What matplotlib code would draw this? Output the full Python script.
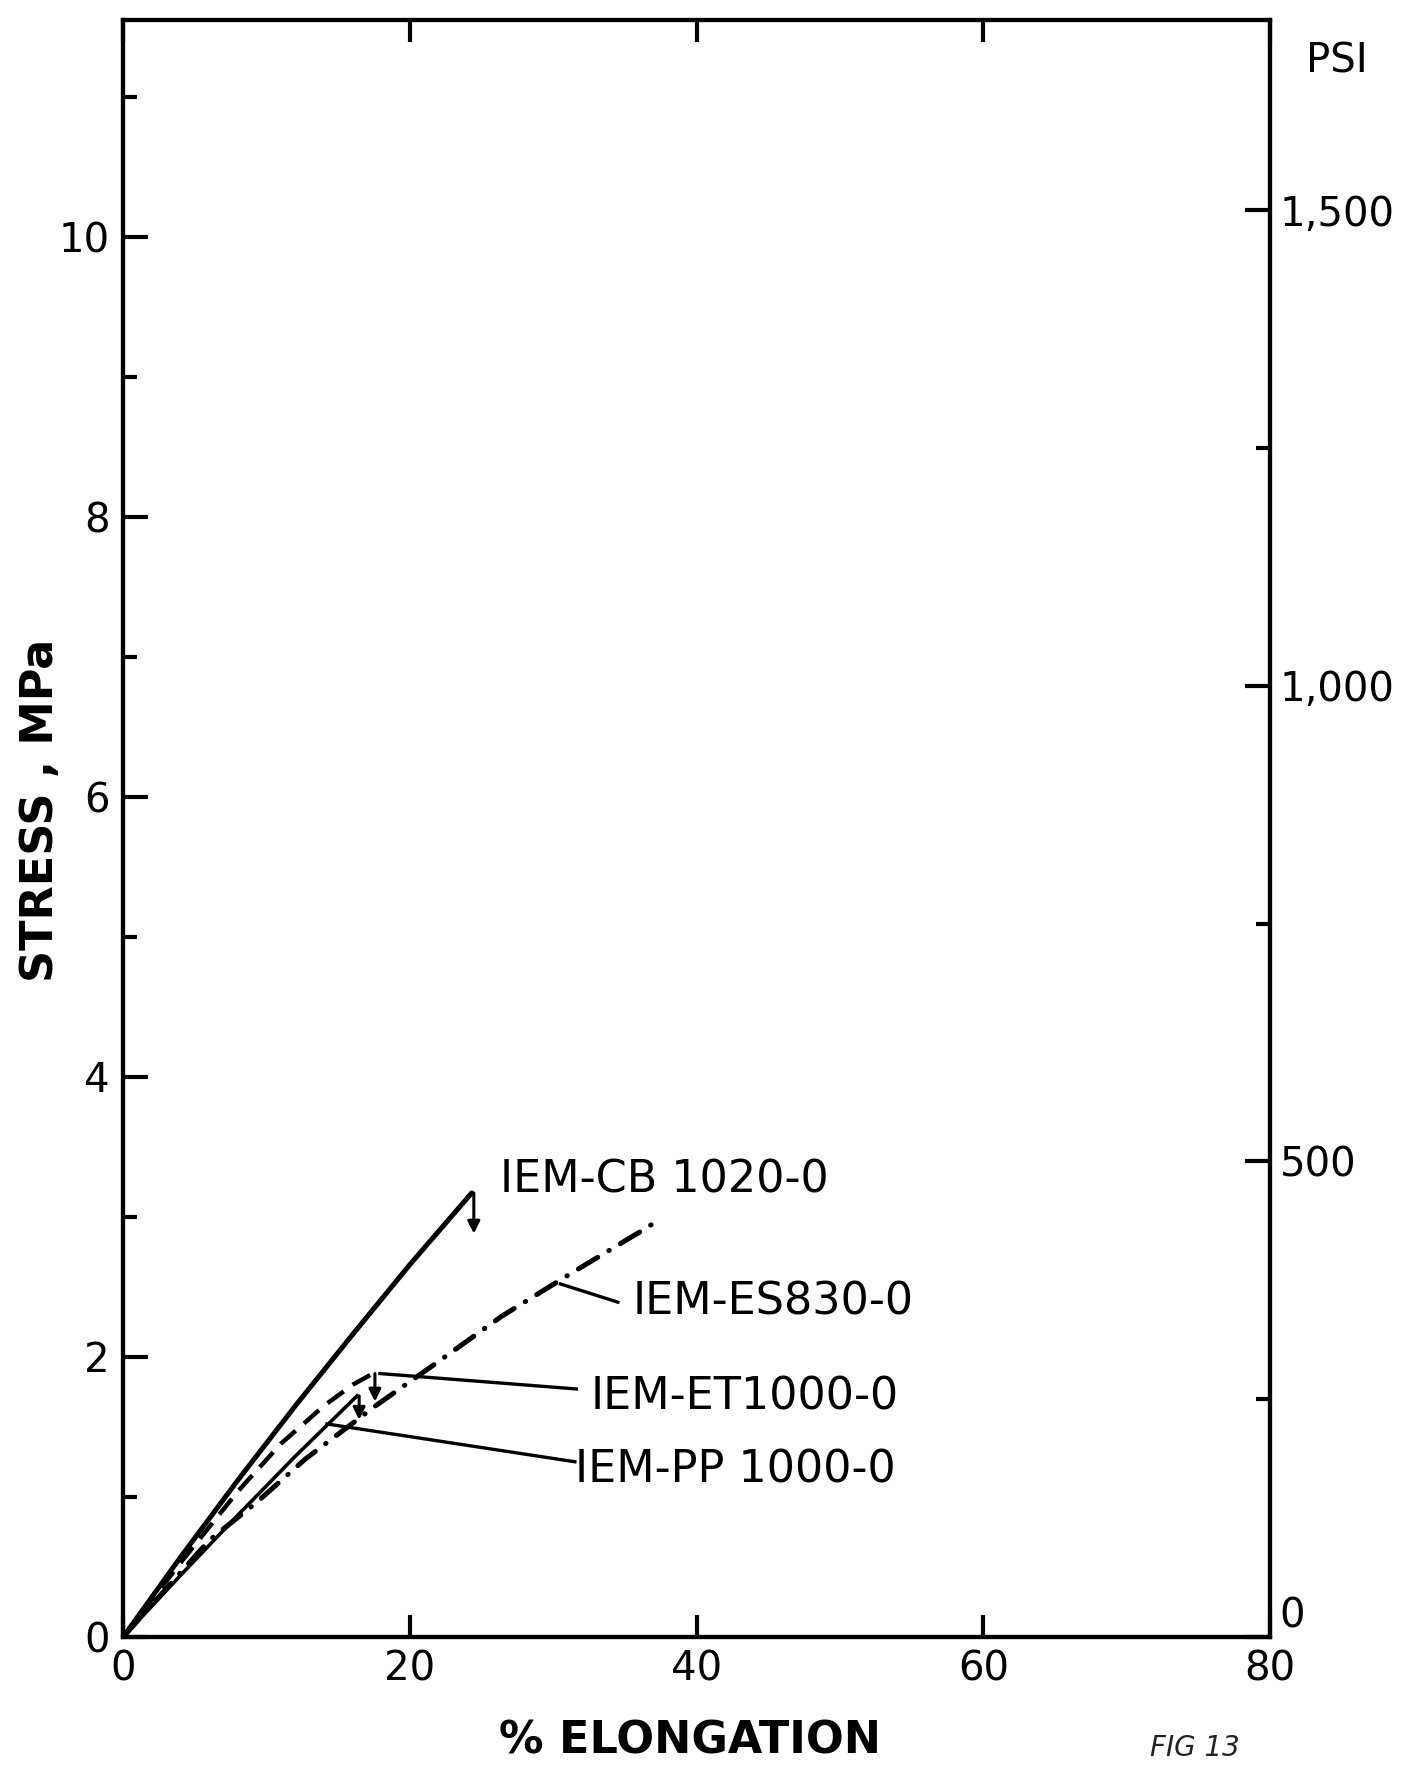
import numpy as np
import matplotlib
matplotlib.use("Agg")
import matplotlib.pyplot as plt
from matplotlib.ticker import MultipleLocator, FuncFormatter

# stress-strain curves (x = % elongation, y = MPa)
cb_x = [0, 4, 8, 12, 16, 20, 24.3]
cb_y = [0, 0.57, 1.12, 1.65, 2.16, 2.66, 3.17]

es_x = [0, 6, 9.3, 12.7, 17.6, 21.9, 26.4, 31.3, 36.0, 37.4]
es_y = [0, 0.69, 0.96, 1.27, 1.65, 1.96, 2.29, 2.60, 2.89, 2.98]

et_x = [0, 4, 8, 11, 14, 16, 17.4]
et_y = [0, 0.53, 1.04, 1.38, 1.65, 1.80, 1.88]

pp_x = [0, 4, 8, 12, 14.1, 16.3]
pp_y = [0, 0.44, 0.87, 1.29, 1.50, 1.72]

labels = ["IEM-CB 1020-0", "IEM-ES830-0", "IEM-ET1000-0", "IEM-PP 1000-0"]

# psi per MPa as the right-hand scale is drawn on the sheet
psi_per_mpa = 147.2
psi_major = [0, 500, 1000, 1500]

plt.rcParams['font.family'] = ['DejaVu Sans']

fig = plt.figure(figsize=(14.23, 17.66), dpi=100)
ax = fig.add_axes([0.0867, 0.0732, 0.8058, 0.9155])

ax.plot(cb_x, cb_y, color='black', lw=3.6, solid_capstyle='round')
ax.plot(es_x, es_y, color='black', lw=3.6, linestyle=(0, (4.5, 2.6, 0.1, 2.6)),
        dash_capstyle='round')
ax.plot(et_x, et_y, color='black', lw=3.2, linestyle=(0, (4.5, 2.5)))
ax.plot(pp_x, pp_y, color='black', lw=2.6)

# small break arrows at the end of three curves
for x0, y0, y1 in [(cb_x[-1], cb_y[-1], 2.88), (et_x[-1], et_y[-1], 1.68),
                   (pp_x[-1], pp_y[-1], 1.55)]:
    ax.annotate("", xy=(x0 + 0.15, y1), xytext=(x0 + 0.15, y0),
                arrowprops=dict(arrowstyle='-|>', color='black', lw=2.2,
                                mutation_scale=18, shrinkA=0, shrinkB=0))

# leader lines
ax.plot([30.5, 34.5], [2.52, 2.39], color='black', lw=2.4)
ax.plot([17.9, 31.6], [1.88, 1.77], color='black', lw=2.4)
ax.plot([14.2, 31.5], [1.52, 1.25], color='black', lw=2.4)

# curve labels
lab_pos = [(26.3, 3.26), (35.5, 2.39), (32.6, 1.71), (31.5, 1.19)]
for (tx, ty), t in zip(lab_pos, labels):
    ax.text(tx, ty, t, fontsize=32, ha='left', va='center')

ax.set_xlim(0, 80)
ax.set_ylim(0, 11.55)
ax.xaxis.set_major_locator(MultipleLocator(20))
ax.yaxis.set_major_locator(MultipleLocator(2))
ax.yaxis.set_minor_locator(MultipleLocator(1))
ax.tick_params(axis='both', which='both', direction='in', width=3,
               labelsize=29, top=True, right=False)
ax.tick_params(axis='y', which='major', length=18, pad=10)
ax.tick_params(axis='y', which='minor', length=10)
ax.tick_params(axis='x', which='major', length=16, pad=9)
for s in ax.spines.values():
    s.set_linewidth(3)

ax.set_xlabel("% ELONGATION", fontsize=32, fontweight='bold', va='center')
ax.xaxis.set_label_coords(0.494, -0.0645)
ax.set_ylabel("STRESS , MPa", fontsize=32, fontweight='bold', va='center')
ax.yaxis.set_label_coords(-0.0726, 0.511)

# right-hand psi scale
ax2 = ax.twinx()
ax2.set_ylim(0, 11.55 * psi_per_mpa)
ax2.set_yticks(psi_major)
ax2.yaxis.set_minor_locator(MultipleLocator(250))
ax2.yaxis.set_major_formatter(FuncFormatter(lambda v, p: f"{int(v):,}"))
ax2.tick_params(axis='y', which='both', direction='in', width=3, labelsize=29)
ax2.tick_params(axis='y', which='major', length=18, pad=7)
ax2.tick_params(axis='y', which='minor', length=10)
for s in ax2.spines.values():
    s.set_linewidth(3)
# lift the "0" psi label a touch so it clears the "80" below it
ax2.get_yticklabels()[0].set_va('bottom')
ax2.text(1.058, 0.974, "PSI", transform=ax.transAxes, fontsize=29,
         ha='center', va='center')

fig.text(0.808, 0.002, "FIG 13", fontsize=20, style='italic', ha='left',
         va='bottom', color='#222222')

fig.savefig("out.png", dpi=100)
